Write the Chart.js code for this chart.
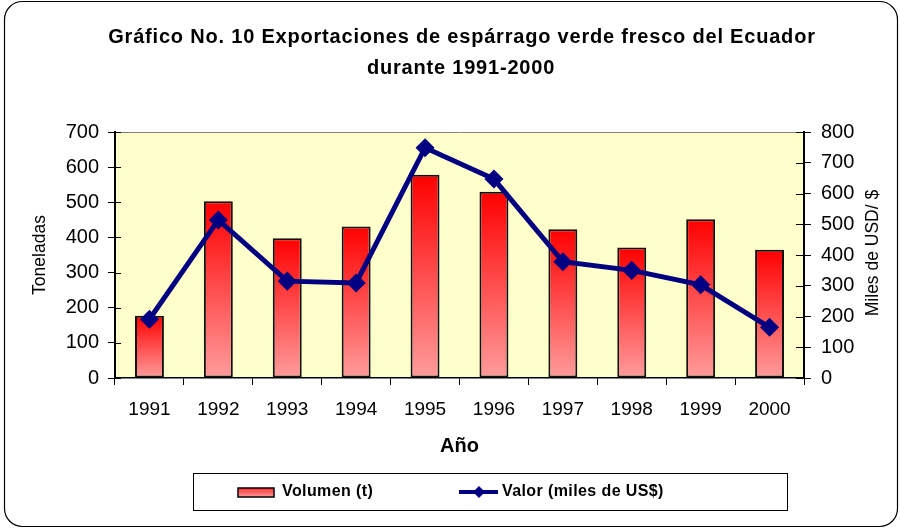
<!DOCTYPE html>
<html>
<head>
<meta charset="utf-8">
<script src="https://cdn.jsdelivr.net/npm/chart.js@4.4.1/dist/chart.umd.min.js"></script>
<style>
  html, body { margin: 0; padding: 0; background: #fff; }
  #wrap { width: 900px; height: 529px; }
</style>
</head>
<body>
<div id="wrap"><canvas id="grafico" width="900" height="529"></canvas></div>
<script>
// datos
const anios = ["1991", "1992", "1993", "1994", "1995", "1996", "1997", "1998", "1999", "2000"];
const volumen = [177, 503, 398, 431, 578, 530, 423, 371, 452, 365]; // toneladas
const valor = [191, 514, 315, 309, 749, 647, 378, 350, 303, 165]; // miles de US$
const ticksToneladas = { min: 0, max: 700, step: 100 };
const ticksValor = { min: 0, max: 800, step: 100 };
const titulo = [
  "Gráfico No. 10 Exportaciones de espárrago verde fresco del Ecuador",
  "durante 1991-2000",
];

const fuente = '"Liberation Sans", Arial, sans-serif';
Chart.defaults.font.family = fuente;
Chart.defaults.color = "#000";

// degradado rojo de cada barra
function rellenoBarra(c) {
  const chart = c.chart;
  if (!chart.chartArea || c.dataIndex === undefined) return "#ff6666";
  const y = chart.scales.y;
  const top = y.getPixelForValue(volumen[c.dataIndex]);
  const bottom = y.getPixelForValue(0);
  const g = chart.ctx.createLinearGradient(0, top, 0, bottom);
  g.addColorStop(0, "#ff0000");
  g.addColorStop(1, "#ff9c9c");
  return g;
}

// fondo amarillo, marco redondeado, titulo, eje derecho y leyenda
const fondo = {
  id: "fondo",
  beforeDraw(chart) {
    const { ctx, chartArea: a } = chart;
    ctx.save();
    ctx.fillStyle = "#ffffcc";
    ctx.fillRect(a.left, a.top, a.right - a.left, a.bottom - a.top);
    ctx.strokeStyle = "#808080";
    ctx.lineWidth = 1;
    ctx.beginPath();
    ctx.moveTo(a.left, a.top + 0.5);
    ctx.lineTo(a.right, a.top + 0.5);
    ctx.stroke();
    ctx.restore();
  },
  beforeDatasetsDraw(chart) {
    // marcas que cruzan los ejes verticales hacia dentro
    const ctx = chart.ctx;
    const { y, y1 } = chart.scales;
    ctx.save();
    ctx.strokeStyle = "#000";
    ctx.lineWidth = 1;
    ctx.beginPath();
    y.ticks.forEach((t) => {
      const py = Math.round(y.getPixelForValue(t.value)) + 0.5;
      ctx.moveTo(y.right, py);
      ctx.lineTo(y.right + 6, py);
    });
    y1.ticks.forEach((t) => {
      const py = Math.round(y1.getPixelForValue(t.value)) + 0.5;
      ctx.moveTo(y1.left - 8, py);
      ctx.lineTo(y1.left, py);
    });
    ctx.stroke();
    ctx.restore();
  },
  afterDraw(chart) {
    const ctx = chart.ctx;
    ctx.save();
    // marco exterior
    ctx.strokeStyle = "#000";
    ctx.lineWidth = 1.2;
    ctx.beginPath();
    ctx.roundRect(4.5, 1.5, 893, 525, 18);
    ctx.stroke();

    // titulo
    ctx.fillStyle = "#000";
    ctx.font = "bold 20px " + fuente;
    ctx.letterSpacing = "0.8px";
    ctx.textAlign = "center";
    ctx.textBaseline = "middle";
    ctx.fillText(titulo[0], 462, 37);
    ctx.fillText(titulo[1], 461, 68);
    ctx.letterSpacing = "0px";

    // titulo del eje derecho
    ctx.font = "17.5px " + fuente;
    ctx.translate(873, 253);
    ctx.rotate(-Math.PI / 2);
    ctx.fillText("Miles de USD/ $", 0, 0);
    ctx.restore();

    // leyenda
    ctx.save();
    ctx.strokeStyle = "#000";
    ctx.lineWidth = 1;
    ctx.strokeRect(193.5, 473.5, 594, 37);
    const cy = 492;
    const g = ctx.createLinearGradient(0, cy - 4, 0, cy + 5);
    g.addColorStop(0, "#ff3030");
    g.addColorStop(1, "#ff9c9c");
    ctx.fillStyle = g;
    ctx.fillRect(238, cy - 4, 36, 9);
    ctx.lineWidth = 1.5;
    ctx.strokeRect(238, cy - 4, 36, 9);

    ctx.strokeStyle = "#000080";
    ctx.lineWidth = 4;
    ctx.beginPath();
    ctx.moveTo(459, cy);
    ctx.lineTo(498, cy);
    ctx.stroke();
    ctx.fillStyle = "#000080";
    ctx.beginPath();
    ctx.moveTo(479, cy - 6);
    ctx.lineTo(485, cy);
    ctx.lineTo(479, cy + 6);
    ctx.lineTo(473, cy);
    ctx.closePath();
    ctx.fill();

    ctx.fillStyle = "#000";
    ctx.font = "bold 16px " + fuente;
    ctx.letterSpacing = "0.4px";
    ctx.textBaseline = "middle";
    ctx.textAlign = "left";
    ctx.fillText(chart.data.datasets[1].label, 282, cy);
    ctx.fillText(chart.data.datasets[0].label, 502, cy);
    ctx.letterSpacing = "0px";
    ctx.restore();
  }
};

const ctx = document.getElementById("grafico");
new Chart(ctx, {
  data: {
    labels: anios,
    datasets: [
      {
        type: "line",
        label: "Valor (miles de US$)",
        data: valor,
        yAxisID: "y1",
        borderColor: "#000080",
        backgroundColor: "#000080",
        borderWidth: 5,
        pointStyle: "rectRot",
        pointRadius: 6,
        pointBackgroundColor: "#000080",
        pointBorderColor: "#000080",
        tension: 0,
        order: 0,
      },
      {
        type: "bar",
        label: "Volumen (t)",
        data: volumen,
        yAxisID: "y",
        backgroundColor: rellenoBarra,
        borderColor: "#111",
        borderWidth: 2,
        borderSkipped: false,
        barPercentage: 0.42,
        categoryPercentage: 1,
        order: 1,
      },
    ],
  },
  options: {
    responsive: false,
    animation: false,
    layout: { padding: { left: 0, right: 0, top: 132, bottom: 51 } },
    scales: {
      x: {
        grid: { display: true, drawOnChartArea: false, tickLength: 7, color: "#000", offset: true },
        border: { color: "#000", width: 1.5 },
        ticks: { font: { size: 19 }, padding: 13, color: "#000" },
        title: {
          display: true,
          text: "Año",
          font: { size: 20, weight: "bold" },
          padding: { top: 0, bottom: 20 },
        },
        afterFit: (s) => { s.height = 100; },
      },
      y: {
        position: "left",
        min: ticksToneladas.min,
        max: ticksToneladas.max,
        ticks: { stepSize: ticksToneladas.step, font: { size: 20 }, padding: 9, color: "#000" },
        grid: { display: true, drawOnChartArea: false, tickLength: 7, color: "#000" },
        border: { color: "#000", width: 2 },
        title: {
          display: true,
          text: "Toneladas",
          font: { size: 17.5 },
          padding: { top: 30, bottom: 0 },
        },
        afterFit: (s) => { s.width = 115; },
      },
      y1: {
        position: "right",
        min: ticksValor.min,
        max: ticksValor.max,
        ticks: { stepSize: ticksValor.step, font: { size: 20 }, padding: 10, color: "#000" },
        grid: { display: true, drawOnChartArea: false, tickLength: 7, color: "#000" },
        border: { color: "#000", width: 2 },
        afterFit: (s) => { s.width = 96; },
      },
    },
    plugins: {
      legend: { display: false },
      tooltip: { enabled: false },
      title: { display: false },
    },
  },
  plugins: [fondo],
});
</script>
</body>
</html>
